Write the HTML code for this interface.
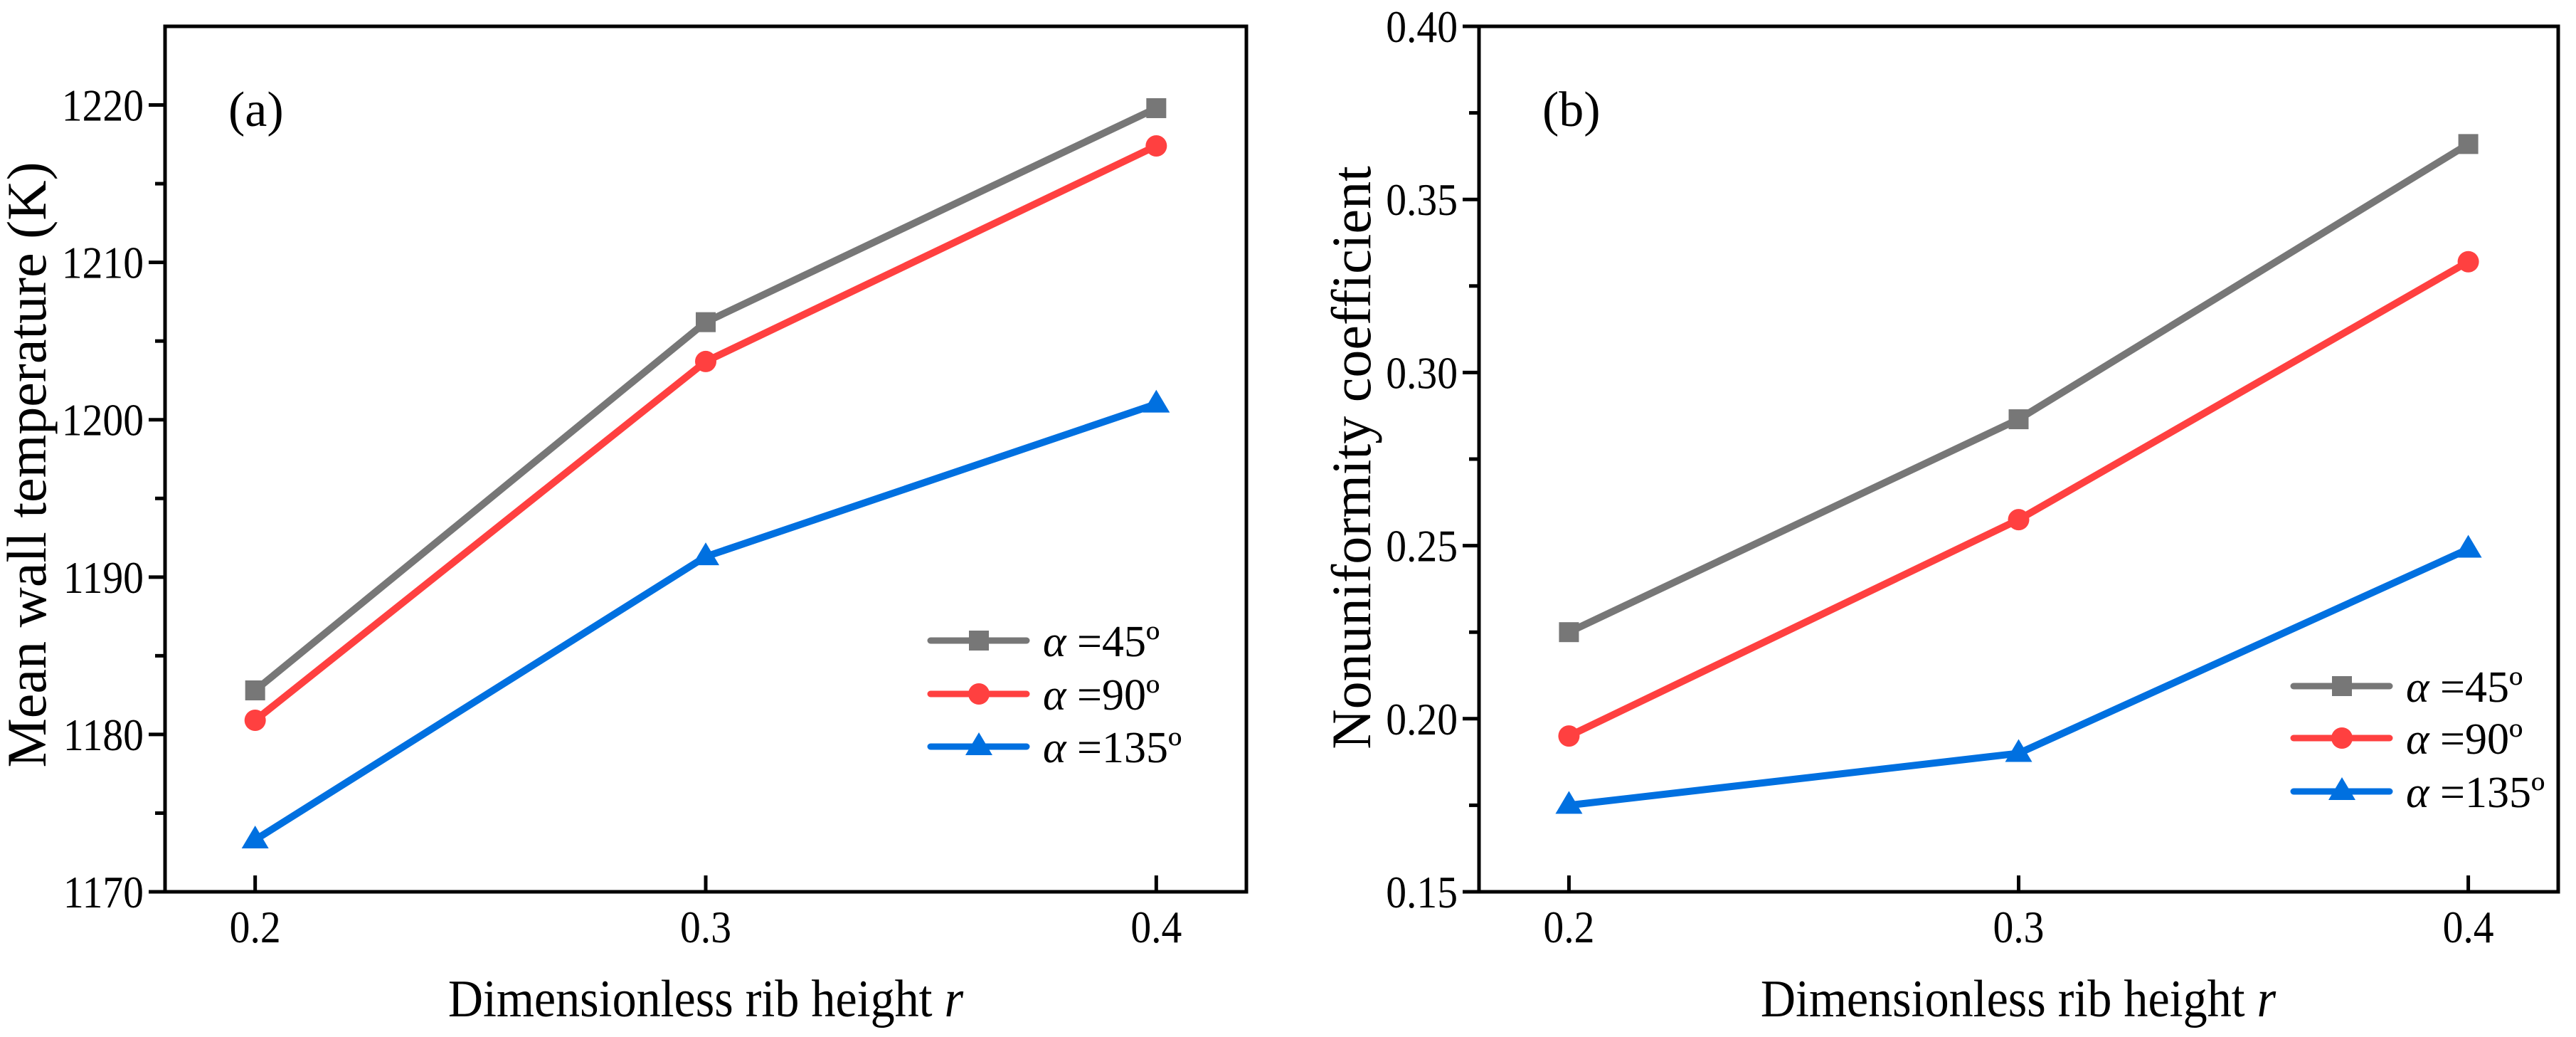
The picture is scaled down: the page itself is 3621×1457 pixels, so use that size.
<!DOCTYPE html>
<html><head><meta charset="utf-8"><style>
html,body{margin:0;padding:0;background:#fff;}
svg{display:block;font-family:"Liberation Serif","Times New Roman",serif;}
svg text{font-family:"Liberation Serif","Times New Roman",serif !important;fill:#000;}
</style></head><body>
<svg id="fig" width="3621" height="1457" viewBox="0 0 3621 1457" font-family="Liberation Serif, serif"></svg>
<script>
const xCats = [0.2, 0.3, 0.4];
const seriesNames = ["45", "90", "135"];
const tempA45 = [1182.8, 1206.2, 1219.8];
const tempA90 = [1180.9, 1203.7, 1217.4];
const tempA135 = [1173.3, 1191.3, 1201.0];
const nonA45 = [0.225, 0.2865, 0.366];
const nonA90 = [0.195, 0.2575, 0.332];
const nonA135 = [0.175, 0.190, 0.249];
const yTicksA = [1170, 1180, 1190, 1200, 1210, 1220];
const yTickLabelsA = ["1170", "1180", "1190", "1200", "1210", "1220"];
const yTicksB = [0.15, 0.20, 0.25, 0.30, 0.35, 0.40];
const yTickLabelsB = ["0.15", "0.20", "0.25", "0.30", "0.35", "0.40"];
const xTickLabels = ["0.2", "0.3", "0.4"];

const NS = "http://www.w3.org/2000/svg";
const svg = document.getElementById("fig");
const colors = ["#777777", "#ff4040", "#0070e0"];
const markers = ["square", "circle", "triangle"];
const FF = "'Liberation Serif', serif";

function mk(tag, attrs, parent) {
  const e = document.createElementNS(NS, tag);
  for (const k in attrs) e.setAttribute(k, attrs[k]);
  if (tag === "text") e.setAttribute("font-family", FF);
  (parent || svg).appendChild(e);
  return e;
}
function marker(g, type, x, y, c) {
  let m;
  if (type === "square") m = mk("rect", {x: x-14, y: y-14, width: 28, height: 28, fill: c}, g);
  else if (type === "circle") m = mk("circle", {cx: x, cy: y, r: 15, fill: c}, g);
  else m = mk("polygon", {points: `${x},${y-20} ${x-19},${y+12} ${x+19},${y+12}`, fill: c}, g);
  return m;
}

function panel(cfg) {
  const {L, R, T, B, xmin, xmax, ymin, ymax, yTicks, yLabels, minorStep, series, label, ytitle, legX, legY, labelX, ytitleX, ytitleY, xtitleX, name} = cfg;
  const g = mk("g", {});
  
  
  const sx = v => L + (v - xmin) / (xmax - xmin) * (R - L);
  const sy = v => B - (v - ymin) / (ymax - ymin) * (B - T);
  series.forEach((vals, si) => {
    const sg = mk("g", {}, g);
    
    
    const pts = vals.map((v, i) => sx(xCats[i]) + "," + sy(v)).join(" ");
    mk("polyline", {points: pts, fill: "none", stroke: colors[si], "stroke-width": 10, "stroke-linejoin": "round", "stroke-linecap": "round"}, sg);
    vals.forEach((v, i) => {
      const m = marker(sg, markers[si], sx(xCats[i]), sy(v), colors[si]);
      
      
    });
  });
  const fr = mk("rect", {x: L, y: T, width: R - L, height: B - T, fill: "none", stroke: "#000", "stroke-width": 5}, g);
  
  
  yTicks.forEach((v, i) => {
    mk("line", {x1: L - 23, x2: L, y1: sy(v), y2: sy(v), stroke: "#000", "stroke-width": 5}, g);
    const t = mk("text", {x: L - 30, y: sy(v) + 22, "font-size": 64, "text-anchor": "end", transform: `translate(${L-30},0) scale(0.9,1) translate(${-(L-30)},0)`}, g);
    t.textContent = yLabels[i];
    
    
    if (i < yTicks.length - 1) {
      const mv = v + minorStep;
      mk("line", {x1: L - 14, x2: L, y1: sy(mv), y2: sy(mv), stroke: "#000", "stroke-width": 5}, g);
    }
  });
  xCats.forEach((v, i) => {
    mk("line", {x1: sx(v), x2: sx(v), y1: B, y2: B - 23, stroke: "#000", "stroke-width": 5}, g);
    const t = mk("text", {x: sx(v), y: 1324, "font-size": 64, "text-anchor": "middle", transform: `translate(${sx(v)},0) scale(0.9,1) translate(${-sx(v)},0)`}, g);
    t.textContent = xTickLabels[i];
    
    
  });
  const pl = mk("text", {x: labelX, y: 177, "font-size": 70}, g);
  pl.textContent = label;
  
  
  const xt = mk("text", {x: xtitleX, y: 1428, "font-size": 74, "text-anchor": "middle", transform: `translate(${xtitleX},0) scale(0.92,1) translate(${-xtitleX},0)`}, g);
  xt.innerHTML = 'Dimensionless rib height <tspan font-style="italic">r</tspan>';
  
  
  const yt = mk("text", {x: 0, y: 0, "font-size": 78, "text-anchor": "middle", transform: `translate(${ytitleX},${ytitleY}) rotate(-90)`}, g);
  yt.textContent = ytitle;
  
  
  const lg = mk("g", {}, g);
  
  
  seriesNames.forEach((s, si) => {
    const y = legY[si];
    const e = mk("g", {}, lg);
    
    
    mk("line", {x1: legX, x2: legX + 135, y1: y, y2: y, stroke: colors[si], "stroke-width": 9, "stroke-linecap": "round"}, e);
    marker(e, markers[si], legX + 68, y, colors[si]);
    const t = mk("text", {x: legX + 158, y: y + 22, "font-size": 62}, e);
    t.innerHTML = '<tspan font-style="italic">α</tspan> =' + s + 'º';
  });
}

panel({name: "panel-a-mean-wall-temperature", L: 232, R: 1752, T: 37, B: 1253, xmin: 0.18, xmax: 0.42, ymin: 1170, ymax: 1225,
  yTicks: yTicksA, yLabels: yTickLabelsA, minorStep: 5, series: [tempA45, tempA90, tempA135],
  label: "(a)", ytitle: "Mean wall temperature (K)", legX: 1308, legY: [900, 975, 1049], labelX: 321,
  ytitleX: 64, ytitleY: 653, xtitleX: 992});
panel({name: "panel-b-nonuniformity", L: 2079, R: 3596, T: 37, B: 1253, xmin: 0.18, xmax: 0.42, ymin: 0.15, ymax: 0.40,
  yTicks: yTicksB, yLabels: yTickLabelsB, minorStep: 0.025, series: [nonA45, nonA90, nonA135],
  label: "(b)", ytitle: "Nonuniformity coefficient", legX: 3224, legY: [964, 1037, 1112], labelX: 2168,
  ytitleX: 1926, ytitleY: 643, xtitleX: 2837});
</script>
</body></html>
